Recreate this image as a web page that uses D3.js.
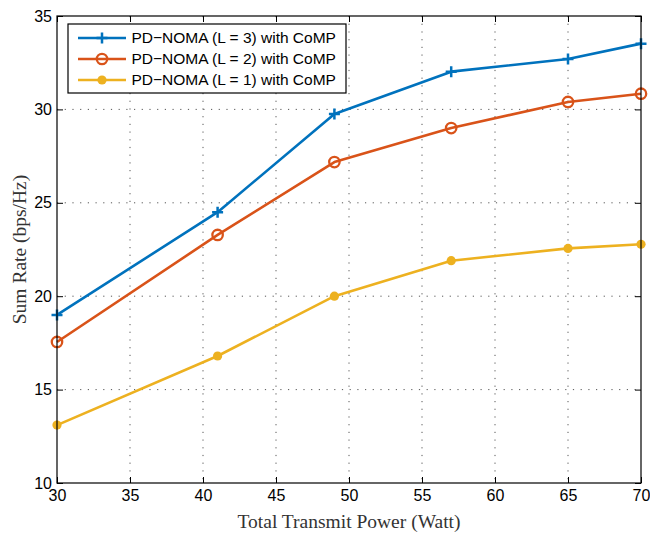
<!DOCTYPE html>
<html>
<head>
<meta charset="utf-8">
<script src="https://cdn.jsdelivr.net/npm/d3@7"></script>
<style>
  body { margin: 0; background: #fff; }
  svg { display: block; }
  .tick text { font-family: "Liberation Sans", Arial, sans-serif; font-size: 16px; fill: #000; }
</style>
</head>
<body>
<div id="chart"></div>
<script>
// Data
const powerWatt = [30, 41, 49, 57, 65, 70];
const rateL3 = [19.0, 24.5, 29.75, 32.02, 32.7, 33.52];
const rateL2 = [17.55, 23.28, 27.18, 29.0, 30.4, 30.84];
const rateL1 = [13.1, 16.8, 20.0, 21.9, 22.56, 22.78];
const xTicks = [30, 35, 40, 45, 50, 55, 60, 65, 70];
const yTicks = [10, 15, 20, 25, 30, 35];

const series = [
    { name: 'PD\u2212NOMA (L = 3) with CoMP', values: rateL3, color: '#0072BD', marker: 'plus' },
    { name: 'PD\u2212NOMA (L = 2) with CoMP', values: rateL2, color: '#D95319', marker: 'circle' },
    { name: 'PD\u2212NOMA (L = 1) with CoMP', values: rateL1, color: '#EDB120', marker: 'dot' }
];

const width = 650, height = 533;
const margin = { left: 57, right: 9, top: 16, bottom: 50 };
const innerW = width - margin.left - margin.right;
const innerH = height - margin.top - margin.bottom;

const svg = d3.select('#chart').append('svg')
    .attr('width', width)
    .attr('height', height);

const g = svg.append('g')
    .attr('transform', `translate(${margin.left},${margin.top})`);

const x = d3.scaleLinear().domain([30, 70]).range([0, innerW]);
const y = d3.scaleLinear().domain([10, 35]).range([innerH, 0]);

// Dotted grid
g.append('g')
    .selectAll('line')
    .data(xTicks.slice(1, -1))
    .join('line')
    .attr('x1', d => x(d)).attr('x2', d => x(d))
    .attr('y1', 0).attr('y2', innerH)
    .attr('stroke', '#444')
    .attr('stroke-width', 0.9)
    .attr('stroke-dasharray', '1.2,6.5');

g.append('g')
    .selectAll('line')
    .data(yTicks.slice(1, -1))
    .join('line')
    .attr('y1', d => y(d)).attr('y2', d => y(d))
    .attr('x1', 0).attr('x2', innerW)
    .attr('stroke', '#444')
    .attr('stroke-width', 0.9)
    .attr('stroke-dasharray', '1.2,6.5');

// Axes (ticks point inward, MATLAB box style)
const xAxis = g.append('g')
    .attr('transform', `translate(0,${innerH})`)
    .call(d3.axisBottom(x).tickValues(xTicks).tickSize(-6).tickPadding(7));
xAxis.select('.domain').remove();
xAxis.selectAll('.tick line').attr('stroke', '#000');

const yAxis = g.append('g')
    .call(d3.axisLeft(y).tickValues(yTicks).tickSize(-6).tickPadding(5));
yAxis.select('.domain').remove();
yAxis.selectAll('.tick line').attr('stroke', '#000');

// top and right ticks
g.append('g')
    .call(d3.axisTop(x).tickValues(xTicks).tickSize(-6).tickFormat(''))
    .call(a => a.select('.domain').remove());
g.append('g')
    .attr('transform', `translate(${innerW},0)`)
    .call(d3.axisRight(y).tickValues(yTicks).tickSize(-6).tickFormat(''))
    .call(a => a.select('.domain').remove());

// Lines
const line = d3.line()
    .x((d, i) => x(powerWatt[i]))
    .y(d => y(d));

function drawMarker(sel, type, color) {
    if (type === 'plus') {
        sel.append('path')
            .attr('d', 'M-5.5,0H5.5M0,-5.5V5.5')
            .attr('stroke', color)
            .attr('stroke-width', 2.5)
            .attr('fill', 'none');
    } else if (type === 'circle') {
        sel.append('circle')
            .attr('r', 5.2)
            .attr('fill', 'none')
            .attr('stroke', color)
            .attr('stroke-width', 2.3);
    } else {
        sel.append('circle')
            .attr('r', 4.6)
            .attr('fill', color);
    }
}

series.forEach(s => {
    g.append('path')
        .datum(s.values)
        .attr('d', line)
        .attr('fill', 'none')
        .attr('stroke', s.color)
        .attr('stroke-width', 2.6)
        .attr('stroke-linejoin', 'round');

    g.append('g')
        .selectAll('g')
        .data(s.values)
        .join('g')
        .attr('transform', (d, i) => `translate(${x(powerWatt[i])},${y(d)})`)
        .each(function () { drawMarker(d3.select(this), s.marker, s.color); });
});

// Box
g.append('rect')
    .attr('width', innerW)
    .attr('height', innerH)
    .attr('fill', 'none')
    .attr('stroke', '#000')
    .attr('stroke-width', 1.2);

// Legend
const legend = g.append('g').attr('transform', 'translate(11,8)');
legend.append('rect')
    .attr('width', 278)
    .attr('height', 69)
    .attr('fill', '#fff')
    .attr('stroke', '#000')
    .attr('stroke-width', 1.2);

series.forEach((s, i) => {
    const row = legend.append('g').attr('transform', `translate(0,${14 + i * 21})`);
    row.append('line')
        .attr('x1', 10).attr('x2', 58)
        .attr('stroke', s.color)
        .attr('stroke-width', 2.6);
    drawMarker(row.append('g').attr('transform', 'translate(34,0)'), s.marker, s.color);
    row.append('text')
        .attr('x', 63.5)
        .attr('dy', '0.35em')
        .attr('font-family', '"Liberation Sans", Arial, sans-serif')
        .attr('font-size', 15.5)
        .text(s.name);
});

// Axis titles
svg.append('text')
    .attr('x', margin.left + innerW / 2)
    .attr('y', 528)
    .attr('text-anchor', 'middle')
    .attr('font-family', '"Liberation Serif", "Times New Roman", serif')
    .attr('font-size', 19.5)
    .attr('fill', '#333')
    .text('Total Transmit Power (Watt)');

svg.append('text')
    .attr('transform', `translate(26,${margin.top + innerH / 2}) rotate(-90)`)
    .attr('text-anchor', 'middle')
    .attr('font-family', '"Liberation Serif", "Times New Roman", serif')
    .attr('font-size', 19.5)
    .attr('fill', '#333')
    .text('Sum Rate (bps/Hz)');
</script>
</body>
</html>
